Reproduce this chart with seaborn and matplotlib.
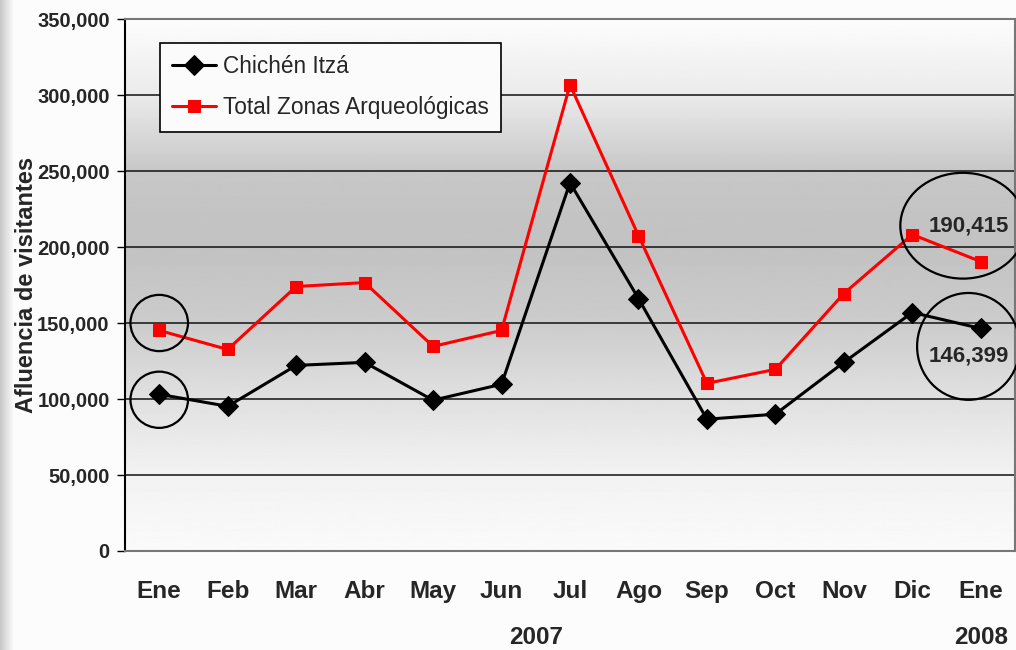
import numpy as np
import pandas as pd
import matplotlib
matplotlib.use("Agg")
import matplotlib.pyplot as plt
from matplotlib.patches import Ellipse
import seaborn as sns

# Data
months = ["Ene", "Feb", "Mar", "Abr", "May", "Jun", "Jul", "Ago",
          "Sep", "Oct", "Nov", "Dic", "Ene"]
chichen = [103100, 95200, 122100, 124100, 99200, 109700, 242300,
           166100, 86700, 90000, 124100, 156900, 146399]
total = [145100, 132600, 174000, 176600, 134600, 145100, 306700,
         207500, 110300, 119500, 169400, 208200, 190415]
years = ["2007", "2008"]
year_pos = [5.5, 12]
yticks = np.arange(0, 350001, 50000)

sns.set_theme(style="white")
plt.rcParams["font.family"] = ["Liberation Sans", "DejaVu Sans"]

df = pd.DataFrame({"pos": range(len(months)), "Chichén Itzá": chichen,
                   "Total Zonas Arqueológicas": total})

fig = plt.figure(figsize=(10.16, 6.5), dpi=100, facecolor="#fcfcfc")

# left grey strip of the slide
strip = fig.add_axes([0, 0, 14 / 1016, 1], zorder=0)
strip.imshow(np.linspace(0.78, 0.99, 50)[None, :], cmap="gray", vmin=0, vmax=1,
             aspect="auto", extent=[0, 1, 0, 1])
strip.axis("off")

ax = fig.add_axes([125 / 1016, 99 / 650, 890 / 1016, 532 / 650], zorder=1)

# vertical gradient background of the plot area
stops_v = [0, 50000, 100000, 150000, 200000, 250000, 300000, 350000]
stops_c = [0.98, 0.95, 0.88, 0.80, 0.76, 0.78, 0.92, 0.99]
yy = np.linspace(0, 350000, 300)
grad = np.interp(yy, stops_v, stops_c)[:, None]
ax.imshow(grad, cmap="gray", vmin=0, vmax=1, aspect="auto", origin="lower",
          extent=[-0.5, 12.5, 0, 350000], zorder=0)

for y in yticks[1:-1]:
    ax.axhline(y, color="#111111", lw=1.1, zorder=1)

sns.lineplot(data=df, x="pos", y="Chichén Itzá", ax=ax, color="black", lw=2.2,
             marker="D", markersize=10, markeredgecolor="black",
             label="Chichén Itzá", zorder=4)
sns.lineplot(data=df, x="pos", y="Total Zonas Arqueológicas", ax=ax,
             color="#ff0000", lw=2.2, marker="s", markersize=8.5,
             markeredgecolor="#ff0000", label="Total Zonas Arqueológicas", zorder=3)

# highlight ellipses
for cx, cy, w, h in [(0, 150000, 0.84, 37000), (0, 99500, 0.84, 37000),
                     (11.74, 214000, 1.83, 69600), (11.82, 134600, 1.5, 70300)]:
    ax.add_patch(Ellipse((cx, cy), w, h, fill=False, ec="black", lw=1.6,
                         zorder=5, clip_on=False))

ax.text(11.82, 214000, f"{total[-1]:,}", ha="center", va="center",
        fontsize=16, fontweight="bold", zorder=6)
ax.text(11.83, 128500, f"{chichen[-1]:,}", ha="center", va="center",
        fontsize=16, fontweight="bold", zorder=6)

ax.set_xlim(-0.5, 12.5)
ax.set_ylim(0, 350000)
ax.set_yticks(yticks)
ax.set_yticklabels([f"{v:,}" for v in yticks], fontsize=14.5, fontweight="bold")
ax.set_xticks(range(len(months)))
ax.set_xticklabels(months, fontsize=17.5, fontweight="bold")
ax.tick_params(axis="y", length=6, width=1, color="black", pad=5, left=True)
ax.tick_params(axis="x", length=0, pad=21)
ax.set_xlabel("")
ax.set_ylabel("Afluencia de visitantes", fontsize=17, fontweight="bold")
ax.yaxis.set_label_coords(-0.098, 0.5)

for ypos, lab in zip(year_pos, years):
    ax.text(ypos, -0.163, lab, transform=ax.get_xaxis_transform(), ha="center",
            va="center", fontsize=17.5, fontweight="bold")

ax.spines["left"].set_color("black")
ax.spines["left"].set_linewidth(1.5)
for s in ["top", "right", "bottom"]:
    ax.spines[s].set_color("#777777")
    ax.spines[s].set_linewidth(1.5)

leg = ax.legend(loc="upper left", bbox_to_anchor=(0.039, 0.955), borderaxespad=0,
                fontsize=16.3, frameon=True, fancybox=False, handlelength=1.95,
                handletextpad=0.3, borderpad=0.55, labelspacing=0.78)
leg.get_frame().set_edgecolor("black")
leg.get_frame().set_linewidth(1.2)
leg.get_frame().set_facecolor("#fbfbfb")
leg.get_frame().set_alpha(1)
leg.set_zorder(7)

fig.savefig("out.png", dpi=100, facecolor=fig.get_facecolor())
